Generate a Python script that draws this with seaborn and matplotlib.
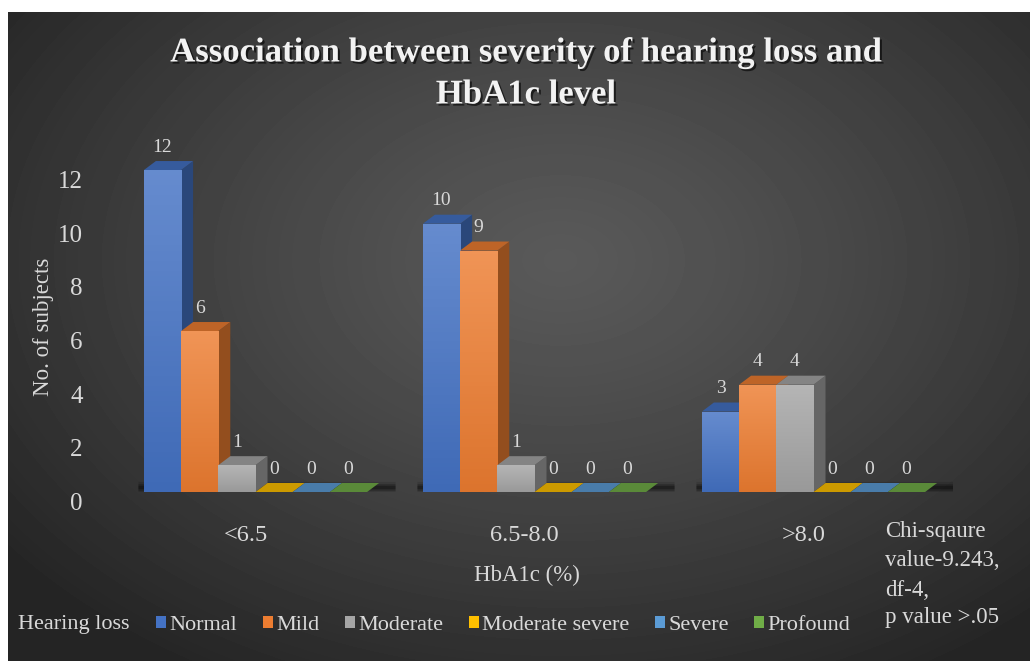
import numpy as np
import pandas as pd
import seaborn as sns
import matplotlib.pyplot as plt
from matplotlib.patches import Polygon, Patch
from matplotlib.colors import LinearSegmentedColormap, to_rgb
from matplotlib.transforms import ScaledTranslation
import matplotlib.patheffects as pe

# data
hba1c_groups = ['<6.5', '6.5-8.0', '>8.0']
hearing_levels = ['Normal', 'Mild', 'Moderate', 'Moderate severe', 'Severe', 'Profound']
normal = [12, 10, 3]
mild = [6, 9, 4]
moderate = [1, 1, 4]
moderate_severe = [0, 0, 0]
severe = [0, 0, 0]
profound = [0, 0, 0]
level_colors = ['#4472C4', '#ED7D31', '#A5A5A5', '#FFC000', '#5B9BD5', '#70AD47']

series = [normal, mild, moderate, moderate_severe, severe, profound]
df = pd.DataFrame({
    'HbA1c': hba1c_groups * len(hearing_levels),
    'level': [lv for lv in hearing_levels for _ in hba1c_groups],
    'count': [v for s in series for v in s],
})
palette = dict(zip(hearing_levels, level_colors))

sns.set_theme(style='white')
plt.rcParams['font.family'] = ['Liberation Serif', 'DejaVu Serif']
txt = '#d9d9d9'

W, H = 1030, 661
fig = plt.figure(figsize=(W / 100, H / 100), dpi=100, facecolor='white')

# dark radial background
bg = fig.add_axes([8 / W, 0, 1 - 8 / W, (H - 12) / H])
bw, bh = W - 8, H - 12
X, Y = np.meshgrid(np.arange(bw) + 8, np.arange(bh) + 12)
d = np.sqrt(((X - 560) / 700) ** 2 + ((Y - 260) / 480) ** 2)
shade = 0.35 + (0.145 - 0.35) * np.clip(d, 0, 1) ** 1.2
bg.imshow(shade, cmap='gray', vmin=0, vmax=1, aspect='auto', interpolation='bilinear')
bg.axis('off')
bg.set_zorder(-1)

# main axes: y=0 at 492px, 26.83 px per unit
ax = fig.add_axes([116 / W, (H - 492) / H, 837 / W, 13 * 26.83 / H])
ax.set_facecolor('none')

sns.barplot(data=df, x='HbA1c', y='count', hue='level', order=hba1c_groups,
            hue_order=hearing_levels, palette=palette, saturation=1, width=0.8,
            errorbar=None, legend=False, ax=ax)

ax.set_xlim(-0.5, 2.5)
ax.set_ylim(0, 13)
dx = 12 / 279
dy = 9 / 26.83

bars = sorted(ax.patches, key=lambda p: p.get_x())
for i, p in enumerate(bars):
    x0, w, h = p.get_x(), p.get_width(), p.get_height()
    base = np.array(to_rgb(p.get_facecolor()))
    z = 2 + i * 0.01
    p.set_linewidth(0)
    p.set_zorder(z + 0.005)
    side = Polygon([(x0 + w, 0), (x0 + w + dx, dy), (x0 + w + dx, h + dy), (x0 + w, h)],
                   closed=True, facecolor=base * 0.62, lw=0, zorder=z)
    top = Polygon([(x0, h), (x0 + w, h), (x0 + w + dx, h + dy), (x0 + dx, h + dy)],
                  closed=True, facecolor=base * 0.8, lw=0, zorder=z + 0.001)
    ax.add_patch(side)
    ax.add_patch(top)
    if h > 0:
        light = base + (1 - base) * 0.18
        dark = base * 0.93
        cmap = LinearSegmentedColormap.from_list('g', [dark, light])
        grad = np.linspace(0, 1, 64).reshape(-1, 1)
        im = ax.imshow(grad, cmap=cmap, extent=[x0, x0 + w, 0, h], origin='lower',
                       aspect='auto', zorder=z + 0.006)
        im.set_clip_path(p)
    ax.annotate(f'{int(h)}', (x0 + w / 2, h), xytext=(0, 16.5), textcoords='offset points',
                ha='center', va='center', color=txt, fontsize=14, zorder=10)

# soft floor shadow for each group
for k in range(len(hba1c_groups)):
    grp = [p for p in bars if k - 0.5 < p.get_x() + p.get_width() / 2 < k + 0.5]
    left = min(p.get_x() for p in grp)
    right = max(p.get_x() + p.get_width() for p in grp)
    for lw, a in [(8, 0.12), (5, 0.18), (2.5, 0.3)]:
        ax.plot([left - 0.02, right + 0.1], [dy * 0.6, dy * 0.6], color='black',
                lw=lw, alpha=a, solid_capstyle='butt', zorder=1.5)

ax.set_xlim(-0.5, 2.5)
ax.set_ylim(0, 13)
ax.set_yticks(range(0, 13, 2))
ax.set_xlabel('')
ax.set_ylabel('')
for s in ax.spines.values():
    s.set_visible(False)
ax.tick_params(axis='y', length=0, pad=24, labelsize=18, labelcolor=txt)
ax.tick_params(axis='x', length=0, pad=24, labelsize=17.5, labelcolor=txt)
for lab in ax.get_yticklabels():
    lab.set_transform(lab.get_transform() + ScaledTranslation(0, -0.095, fig.dpi_scale_trans))
for lab in ax.get_xticklabels():
    lab.set_transform(lab.get_transform() + ScaledTranslation(-0.10, 0, fig.dpi_scale_trans))

fig.text(43 / W, 1 - 327 / H, 'No. of subjects', rotation=90, ha='center', va='center',
         color=txt, fontsize=16.5)
fig.text(527 / W, 1 - 575 / H, 'HbA1c (%)', ha='center', va='center', color=txt, fontsize=16.5)

# title
shadow = [pe.withSimplePatchShadow(offset=(1.5, -1.5), shadow_rgbFace='black', alpha=0.6)]
fig.text(526 / W, 1 - 53 / H, 'Association between severity of hearing loss and',
         ha='center', va='center', color='#f2f2f2', fontsize=25, fontweight='bold',
         path_effects=shadow)
fig.text(526 / W, 1 - 95 / H, 'HbA1c level', ha='center', va='center', color='#f2f2f2',
         fontsize=25, fontweight='bold', path_effects=shadow)

# legend
handles = [Patch(facecolor=palette[lv], lw=0) for lv in hearing_levels]
fig.legend(handles, hearing_levels, loc='center left', bbox_to_anchor=(156 / W, 1 - 625 / H),
           ncol=6, frameon=False, fontsize=16, handlelength=0.45, handleheight=0.45,
           handletextpad=0.15, columnspacing=1.15, labelcolor=txt, borderpad=0,
           borderaxespad=0)
fig.text(18 / W, 1 - 625 / H, 'Hearing loss', ha='left', va='center', color=txt, fontsize=16)

# chi-square note
note_lines = ['Chi-sqaure', 'value-9.243,', 'df-4,', 'p value >.05']
for line, yp in zip(note_lines, [532, 561, 590, 618]):
    fig.text(885 / W, 1 - yp / H, line, ha='left', va='center', color=txt, fontsize=16.5)

fig.savefig('out.png', dpi=100)
